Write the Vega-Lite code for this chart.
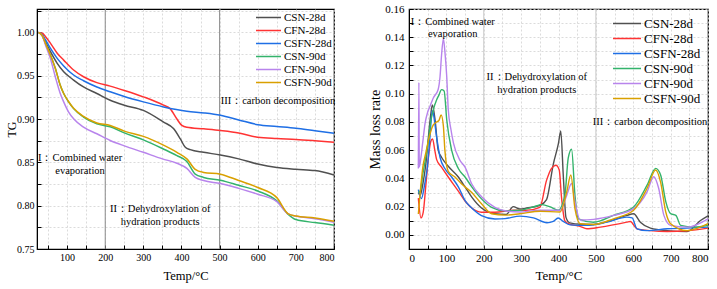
{
  "$schema": "https://vega.github.io/schema/vega-lite/v6.json",
  "background": "white",
  "padding": {"left": 4, "top": 2, "right": 0, "bottom": 0},
  "bounds": "flush",
  "spacing": 75,
  "config": {
    "font": "Liberation Serif",
    "view": {"stroke": "black", "strokeWidth": 1.2},
    "axis": {
      "domainColor": "black",
      "tickColor": "black",
      "tickSize": -4,
      "labelFont": "Liberation Serif",
      "labelColor": "black",
      "titleFont": "Liberation Serif",
      "titleColor": "black",
      "titleFontWeight": "normal",
      "gridColor": "#d2d2d2",
      "gridDash": [2, 2],
      "gridWidth": 0.8
    },
    "legend": {
      "labelFont": "Liberation Serif",
      "labelColor": "black",
      "symbolType": "stroke",
      "padding": 0,
      "rowPadding": 0,
      "labelOffset": 2
    }
  },
  "resolve": {"scale": {"color": "independent"}, "legend": {"color": "independent"}},
  "datasets": {
    "stages": [{"T": 200}, {"T": 500}],
    "tg": [
      {"s":"CSN-28d","T":25,"v":1.0},{"s":"CSN-28d","T":35,"v":0.997},{"s":"CSN-28d","T":43,"v":0.9895},{"s":"CSN-28d","T":56,"v":0.978},{"s":"CSN-28d","T":74,"v":0.9643},{"s":"CSN-28d","T":91,"v":0.9547},{"s":"CSN-28d","T":117,"v":0.945},{"s":"CSN-28d","T":143,"v":0.937},{"s":"CSN-28d","T":178,"v":0.9295},{"s":"CSN-28d","T":213,"v":0.9217},{"s":"CSN-28d","T":250,"v":0.916},{"s":"CSN-28d","T":300,"v":0.910},{"s":"CSN-28d","T":353,"v":0.8965},{"s":"CSN-28d","T":379,"v":0.889},{"s":"CSN-28d","T":397,"v":0.877},{"s":"CSN-28d","T":410,"v":0.8674},{"s":"CSN-28d","T":423,"v":0.8647},{"s":"CSN-28d","T":458,"v":0.8616},{"s":"CSN-28d","T":502,"v":0.8585},{"s":"CSN-28d","T":550,"v":0.854},{"s":"CSN-28d","T":600,"v":0.848},{"s":"CSN-28d","T":650,"v":0.844},{"s":"CSN-28d","T":700,"v":0.842},{"s":"CSN-28d","T":750,"v":0.8405},{"s":"CSN-28d","T":800,"v":0.8355},
      {"s":"CFN-28d","T":25,"v":1.0},{"s":"CFN-28d","T":35,"v":0.999},{"s":"CFN-28d","T":43,"v":0.9953},{"s":"CFN-28d","T":56,"v":0.9876},{"s":"CFN-28d","T":74,"v":0.976},{"s":"CFN-28d","T":91,"v":0.968},{"s":"CFN-28d","T":117,"v":0.9566},{"s":"CFN-28d","T":143,"v":0.9488},{"s":"CFN-28d","T":178,"v":0.942},{"s":"CFN-28d","T":213,"v":0.938},{"s":"CFN-28d","T":250,"v":0.933},{"s":"CFN-28d","T":300,"v":0.9256},{"s":"CFN-28d","T":353,"v":0.916},{"s":"CFN-28d","T":370,"v":0.912},{"s":"CFN-28d","T":388,"v":0.900},{"s":"CFN-28d","T":401,"v":0.8926},{"s":"CFN-28d","T":414,"v":0.8905},{"s":"CFN-28d","T":458,"v":0.8887},{"s":"CFN-28d","T":502,"v":0.8868},{"s":"CFN-28d","T":550,"v":0.884},{"s":"CFN-28d","T":600,"v":0.879},{"s":"CFN-28d","T":650,"v":0.8775},{"s":"CFN-28d","T":700,"v":0.8765},{"s":"CFN-28d","T":750,"v":0.875},{"s":"CFN-28d","T":800,"v":0.8733},
      {"s":"CSFN-28d","T":25,"v":1.0},{"s":"CSFN-28d","T":35,"v":0.997},{"s":"CSFN-28d","T":43,"v":0.9915},{"s":"CSFN-28d","T":56,"v":0.9818},{"s":"CSFN-28d","T":74,"v":0.970},{"s":"CSFN-28d","T":91,"v":0.9613},{"s":"CSFN-28d","T":117,"v":0.9508},{"s":"CSFN-28d","T":143,"v":0.9442},{"s":"CSFN-28d","T":178,"v":0.937},{"s":"CSFN-28d","T":213,"v":0.9314},{"s":"CSFN-28d","T":250,"v":0.926},{"s":"CSFN-28d","T":300,"v":0.9198},{"s":"CSFN-28d","T":353,"v":0.914},{"s":"CSFN-28d","T":414,"v":0.909},{"s":"CSFN-28d","T":460,"v":0.907},{"s":"CSFN-28d","T":502,"v":0.9043},{"s":"CSFN-28d","T":550,"v":0.899},{"s":"CSFN-28d","T":600,"v":0.8935},{"s":"CSFN-28d","T":650,"v":0.8915},{"s":"CSFN-28d","T":700,"v":0.8895},{"s":"CSFN-28d","T":750,"v":0.8865},{"s":"CSFN-28d","T":800,"v":0.8837},
      {"s":"CSN-90d","T":25,"v":1.0},{"s":"CSN-90d","T":35,"v":0.996},{"s":"CSN-90d","T":43,"v":0.9876},{"s":"CSN-90d","T":56,"v":0.974},{"s":"CSN-90d","T":69,"v":0.9585},{"s":"CSN-90d","T":82,"v":0.939},{"s":"CSN-90d","T":91,"v":0.9295},{"s":"CSN-90d","T":104,"v":0.9198},{"s":"CSN-90d","T":117,"v":0.912},{"s":"CSN-90d","T":143,"v":0.9023},{"s":"CSN-90d","T":178,"v":0.8945},{"s":"CSN-90d","T":213,"v":0.891},{"s":"CSN-90d","T":250,"v":0.884},{"s":"CSN-90d","T":300,"v":0.876},{"s":"CSN-90d","T":350,"v":0.866},{"s":"CSN-90d","T":388,"v":0.8578},{"s":"CSN-90d","T":414,"v":0.851},{"s":"CSN-90d","T":436,"v":0.8364},{"s":"CSN-90d","T":458,"v":0.8326},{"s":"CSN-90d","T":502,"v":0.8294},{"s":"CSN-90d","T":550,"v":0.8235},{"s":"CSN-90d","T":600,"v":0.817},{"s":"CSN-90d","T":650,"v":0.8055},{"s":"CSN-90d","T":680,"v":0.790},{"s":"CSN-90d","T":700,"v":0.784},{"s":"CSN-90d","T":750,"v":0.7805},{"s":"CSN-90d","T":800,"v":0.7775},
      {"s":"CFN-90d","T":25,"v":1.0},{"s":"CFN-90d","T":35,"v":0.996},{"s":"CFN-90d","T":43,"v":0.9857},{"s":"CFN-90d","T":56,"v":0.970},{"s":"CFN-90d","T":69,"v":0.9488},{"s":"CFN-90d","T":82,"v":0.9295},{"s":"CFN-90d","T":91,"v":0.9198},{"s":"CFN-90d","T":104,"v":0.908},{"s":"CFN-90d","T":117,"v":0.9003},{"s":"CFN-90d","T":143,"v":0.8907},{"s":"CFN-90d","T":178,"v":0.883},{"s":"CFN-90d","T":213,"v":0.8752},{"s":"CFN-90d","T":250,"v":0.869},{"s":"CFN-90d","T":300,"v":0.8616},{"s":"CFN-90d","T":350,"v":0.854},{"s":"CFN-90d","T":388,"v":0.849},{"s":"CFN-90d","T":414,"v":0.843},{"s":"CFN-90d","T":436,"v":0.8326},{"s":"CFN-90d","T":458,"v":0.829},{"s":"CFN-90d","T":502,"v":0.8256},{"s":"CFN-90d","T":550,"v":0.820},{"s":"CFN-90d","T":600,"v":0.8132},{"s":"CFN-90d","T":650,"v":0.8047},{"s":"CFN-90d","T":680,"v":0.7905},{"s":"CFN-90d","T":700,"v":0.788},{"s":"CFN-90d","T":750,"v":0.785},{"s":"CFN-90d","T":800,"v":0.781},
      {"s":"CSFN-90d","T":25,"v":1.0},{"s":"CSFN-90d","T":35,"v":0.996},{"s":"CSFN-90d","T":43,"v":0.9876},{"s":"CSFN-90d","T":56,"v":0.974},{"s":"CSFN-90d","T":69,"v":0.9585},{"s":"CSFN-90d","T":82,"v":0.939},{"s":"CSFN-90d","T":91,"v":0.9295},{"s":"CSFN-90d","T":104,"v":0.920},{"s":"CSFN-90d","T":117,"v":0.9125},{"s":"CSFN-90d","T":143,"v":0.903},{"s":"CSFN-90d","T":178,"v":0.8955},{"s":"CSFN-90d","T":213,"v":0.8926},{"s":"CSFN-90d","T":250,"v":0.886},{"s":"CSFN-90d","T":300,"v":0.880},{"s":"CSFN-90d","T":350,"v":0.8705},{"s":"CSFN-90d","T":388,"v":0.8616},{"s":"CSFN-90d","T":414,"v":0.854},{"s":"CSFN-90d","T":436,"v":0.842},{"s":"CSFN-90d","T":458,"v":0.8384},{"s":"CSFN-90d","T":502,"v":0.8364},{"s":"CSFN-90d","T":550,"v":0.829},{"s":"CSFN-90d","T":600,"v":0.821},{"s":"CSFN-90d","T":650,"v":0.8093},{"s":"CSFN-90d","T":680,"v":0.7905},{"s":"CSFN-90d","T":700,"v":0.788},{"s":"CSFN-90d","T":750,"v":0.7858},{"s":"CSFN-90d","T":800,"v":0.782}
    ],
    "dtg": [
      {"s":"CSN-28d","T":25,"v":0.030},{"s":"CSN-28d","T":30,"v":0.028},{"s":"CSN-28d","T":37,"v":0.036},{"s":"CSN-28d","T":45,"v":0.05},{"s":"CSN-28d","T":52,"v":0.0695},{"s":"CSN-28d","T":58,"v":0.085},{"s":"CSN-28d","T":62.5,"v":0.092},{"s":"CSN-28d","T":70,"v":0.081},{"s":"CSN-28d","T":78,"v":0.060},{"s":"CSN-28d","T":87,"v":0.055},{"s":"CSN-28d","T":105,"v":0.0486},{"s":"CSN-28d","T":132,"v":0.041},{"s":"CSN-28d","T":150,"v":0.034},{"s":"CSN-28d","T":168,"v":0.0267},{"s":"CSN-28d","T":194,"v":0.019},{"s":"CSN-28d","T":230,"v":0.015},{"s":"CSN-28d","T":260,"v":0.0145},{"s":"CSN-28d","T":279,"v":0.020},{"s":"CSN-28d","T":297,"v":0.0183},{"s":"CSN-28d","T":315,"v":0.019},{"s":"CSN-28d","T":351,"v":0.021},{"s":"CSN-28d","T":368,"v":0.025},{"s":"CSN-28d","T":386,"v":0.050},{"s":"CSN-28d","T":400,"v":0.065},{"s":"CSN-28d","T":406,"v":0.0736},{"s":"CSN-28d","T":413,"v":0.041},{"s":"CSN-28d","T":420,"v":0.0124},{"s":"CSN-28d","T":430,"v":0.0085},{"s":"CSN-28d","T":460,"v":0.0075},{"s":"CSN-28d","T":494,"v":0.0074},{"s":"CSN-28d","T":538,"v":0.010},{"s":"CSN-28d","T":583,"v":0.0138},{"s":"CSN-28d","T":601,"v":0.015},{"s":"CSN-28d","T":619,"v":0.009},{"s":"CSN-28d","T":646,"v":0.0048},{"s":"CSN-28d","T":691,"v":0.003},{"s":"CSN-28d","T":744,"v":0.0024},{"s":"CSN-28d","T":780,"v":0.0102},{"s":"CSN-28d","T":800,"v":0.0135},
      {"s":"CFN-28d","T":25,"v":0.026},{"s":"CFN-28d","T":32,"v":0.012},{"s":"CFN-28d","T":38,"v":0.016},{"s":"CFN-28d","T":45,"v":0.035},{"s":"CFN-28d","T":52,"v":0.055},{"s":"CFN-28d","T":58,"v":0.066},{"s":"CFN-28d","T":63,"v":0.068},{"s":"CFN-28d","T":69,"v":0.060},{"s":"CFN-28d","T":74,"v":0.0533},{"s":"CFN-28d","T":87,"v":0.048},{"s":"CFN-28d","T":105,"v":0.041},{"s":"CFN-28d","T":132,"v":0.031},{"s":"CFN-28d","T":150,"v":0.024},{"s":"CFN-28d","T":168,"v":0.019},{"s":"CFN-28d","T":194,"v":0.016},{"s":"CFN-28d","T":230,"v":0.016},{"s":"CFN-28d","T":279,"v":0.0174},{"s":"CFN-28d","T":315,"v":0.0174},{"s":"CFN-28d","T":350,"v":0.0195},{"s":"CFN-28d","T":368,"v":0.0386},{"s":"CFN-28d","T":381,"v":0.047},{"s":"CFN-28d","T":393,"v":0.0493},{"s":"CFN-28d","T":402,"v":0.046},{"s":"CFN-28d","T":408,"v":0.0267},{"s":"CFN-28d","T":417,"v":0.010},{"s":"CFN-28d","T":426,"v":0.0079},{"s":"CFN-28d","T":458,"v":0.006},{"s":"CFN-28d","T":476,"v":0.0043},{"s":"CFN-28d","T":512,"v":0.0055},{"s":"CFN-28d","T":583,"v":0.009},{"s":"CFN-28d","T":592,"v":0.0095},{"s":"CFN-28d","T":610,"v":0.0043},{"s":"CFN-28d","T":646,"v":0.003},{"s":"CFN-28d","T":691,"v":0.0024},{"s":"CFN-28d","T":744,"v":0.0029},{"s":"CFN-28d","T":800,"v":0.0048},
      {"s":"CSFN-28d","T":25,"v":0.032},{"s":"CSFN-28d","T":33,"v":0.0257},{"s":"CSFN-28d","T":42,"v":0.036},{"s":"CSFN-28d","T":50,"v":0.05},{"s":"CSFN-28d","T":56,"v":0.069},{"s":"CSFN-28d","T":62,"v":0.088},{"s":"CSFN-28d","T":65,"v":0.086},{"s":"CSFN-28d","T":74,"v":0.069},{"s":"CSFN-28d","T":83,"v":0.055},{"s":"CSFN-28d","T":96,"v":0.047},{"s":"CSFN-28d","T":114,"v":0.041},{"s":"CSFN-28d","T":132,"v":0.034},{"s":"CSFN-28d","T":150,"v":0.0243},{"s":"CSFN-28d","T":168,"v":0.019},{"s":"CSFN-28d","T":194,"v":0.0136},{"s":"CSFN-28d","T":230,"v":0.0112},{"s":"CSFN-28d","T":257,"v":0.0115},{"s":"CSFN-28d","T":297,"v":0.0133},{"s":"CSFN-28d","T":333,"v":0.012},{"s":"CSFN-28d","T":369,"v":0.0086},{"s":"CSFN-28d","T":386,"v":0.0095},{"s":"CSFN-28d","T":399,"v":0.012},{"s":"CSFN-28d","T":413,"v":0.0095},{"s":"CSFN-28d","T":431,"v":0.0071},{"s":"CSFN-28d","T":476,"v":0.0067},{"s":"CSFN-28d","T":530,"v":0.009},{"s":"CSFN-28d","T":583,"v":0.0126},{"s":"CSFN-28d","T":597,"v":0.012},{"s":"CSFN-28d","T":610,"v":0.0043},{"s":"CSFN-28d","T":637,"v":0.003},{"s":"CSFN-28d","T":691,"v":0.0043},{"s":"CSFN-28d","T":744,"v":0.0048},{"s":"CSFN-28d","T":800,"v":0.0055},
      {"s":"CSN-90d","T":25,"v":0.030},{"s":"CSN-90d","T":30,"v":0.031},{"s":"CSN-90d","T":37,"v":0.043},{"s":"CSN-90d","T":45,"v":0.055},{"s":"CSN-90d","T":52,"v":0.067},{"s":"CSN-90d","T":58,"v":0.08},{"s":"CSN-90d","T":65,"v":0.0886},{"s":"CSN-90d","T":74,"v":0.0957},{"s":"CSN-90d","T":80,"v":0.099},{"s":"CSN-90d","T":87,"v":0.1029},{"s":"CSN-90d","T":94,"v":0.102},{"s":"CSN-90d","T":101,"v":0.0814},{"s":"CSN-90d","T":114,"v":0.060},{"s":"CSN-90d","T":132,"v":0.047},{"s":"CSN-90d","T":150,"v":0.041},{"s":"CSN-90d","T":168,"v":0.034},{"s":"CSN-90d","T":194,"v":0.0255},{"s":"CSN-90d","T":221,"v":0.0195},{"s":"CSN-90d","T":257,"v":0.017},{"s":"CSN-90d","T":297,"v":0.0174},{"s":"CSN-90d","T":333,"v":0.0198},{"s":"CSN-90d","T":356,"v":0.0214},{"s":"CSN-90d","T":378,"v":0.0198},{"s":"CSN-90d","T":399,"v":0.0174},{"s":"CSN-90d","T":417,"v":0.028},{"s":"CSN-90d","T":426,"v":0.0543},{"s":"CSN-90d","T":435,"v":0.0607},{"s":"CSN-90d","T":444,"v":0.028},{"s":"CSN-90d","T":453,"v":0.0114},{"s":"CSN-90d","T":494,"v":0.009},{"s":"CSN-90d","T":547,"v":0.0138},{"s":"CSN-90d","T":601,"v":0.0198},{"s":"CSN-90d","T":637,"v":0.0352},{"s":"CSN-90d","T":660,"v":0.0471},{"s":"CSN-90d","T":673,"v":0.0426},{"s":"CSN-90d","T":687,"v":0.0236},{"s":"CSN-90d","T":700,"v":0.015},{"s":"CSN-90d","T":714,"v":0.0138},{"s":"CSN-90d","T":727,"v":0.0067},{"s":"CSN-90d","T":762,"v":0.0055},{"s":"CSN-90d","T":800,"v":0.0067},
      {"s":"CFN-90d","T":25,"v":0.047},{"s":"CFN-90d","T":26.5,"v":0.108},{"s":"CFN-90d","T":27.5,"v":0.048},{"s":"CFN-90d","T":32,"v":0.055},{"s":"CFN-90d","T":37,"v":0.066},{"s":"CFN-90d","T":43,"v":0.079},{"s":"CFN-90d","T":50,"v":0.087},{"s":"CFN-90d","T":56,"v":0.091},{"s":"CFN-90d","T":65,"v":0.097},{"s":"CFN-90d","T":78,"v":0.103},{"s":"CFN-90d","T":83,"v":0.112},{"s":"CFN-90d","T":87,"v":0.127},{"s":"CFN-90d","T":92,"v":0.139},{"s":"CFN-90d","T":96,"v":0.13},{"s":"CFN-90d","T":101,"v":0.112},{"s":"CFN-90d","T":105,"v":0.089},{"s":"CFN-90d","T":112,"v":0.075},{"s":"CFN-90d","T":119,"v":0.065},{"s":"CFN-90d","T":136,"v":0.053},{"s":"CFN-90d","T":150,"v":0.048},{"s":"CFN-90d","T":168,"v":0.036},{"s":"CFN-90d","T":194,"v":0.027},{"s":"CFN-90d","T":230,"v":0.0195},{"s":"CFN-90d","T":257,"v":0.0171},{"s":"CFN-90d","T":297,"v":0.0162},{"s":"CFN-90d","T":351,"v":0.0174},{"s":"CFN-90d","T":404,"v":0.0174},{"s":"CFN-90d","T":422,"v":0.028},{"s":"CFN-90d","T":435,"v":0.0364},{"s":"CFN-90d","T":444,"v":0.0236},{"s":"CFN-90d","T":458,"v":0.0105},{"s":"CFN-90d","T":494,"v":0.011},{"s":"CFN-90d","T":547,"v":0.0138},{"s":"CFN-90d","T":601,"v":0.0186},{"s":"CFN-90d","T":637,"v":0.0305},{"s":"CFN-90d","T":655,"v":0.0412},{"s":"CFN-90d","T":668,"v":0.033},{"s":"CFN-90d","T":682,"v":0.0138},{"s":"CFN-90d","T":700,"v":0.0067},{"s":"CFN-90d","T":744,"v":0.0055},{"s":"CFN-90d","T":800,"v":0.0114},
      {"s":"CSFN-90d","T":25,"v":0.0148},{"s":"CSFN-90d","T":30,"v":0.03},{"s":"CSFN-90d","T":37,"v":0.048},{"s":"CSFN-90d","T":45,"v":0.058},{"s":"CSFN-90d","T":52,"v":0.067},{"s":"CSFN-90d","T":65,"v":0.0779},{"s":"CSFN-90d","T":74,"v":0.080},{"s":"CSFN-90d","T":80,"v":0.081},{"s":"CSFN-90d","T":86,"v":0.085},{"s":"CSFN-90d","T":92,"v":0.077},{"s":"CSFN-90d","T":96,"v":0.06},{"s":"CSFN-90d","T":105,"v":0.045},{"s":"CSFN-90d","T":123,"v":0.041},{"s":"CSFN-90d","T":141,"v":0.036},{"s":"CSFN-90d","T":168,"v":0.030},{"s":"CSFN-90d","T":194,"v":0.022},{"s":"CSFN-90d","T":221,"v":0.015},{"s":"CSFN-90d","T":257,"v":0.014},{"s":"CSFN-90d","T":297,"v":0.015},{"s":"CSFN-90d","T":351,"v":0.0167},{"s":"CSFN-90d","T":404,"v":0.0162},{"s":"CSFN-90d","T":422,"v":0.0305},{"s":"CSFN-90d","T":433,"v":0.0424},{"s":"CSFN-90d","T":444,"v":0.0186},{"s":"CSFN-90d","T":458,"v":0.0079},{"s":"CSFN-90d","T":494,"v":0.0074},{"s":"CSFN-90d","T":547,"v":0.0114},{"s":"CSFN-90d","T":601,"v":0.0174},{"s":"CSFN-90d","T":637,"v":0.033},{"s":"CSFN-90d","T":660,"v":0.046},{"s":"CSFN-90d","T":673,"v":0.0376},{"s":"CSFN-90d","T":687,"v":0.0162},{"s":"CSFN-90d","T":700,"v":0.0079},{"s":"CSFN-90d","T":744,"v":0.003},{"s":"CSFN-90d","T":800,"v":0.0079}
    ],
    "tgNotes": [
      {"T": 653, "v": 0.9208, "t": "III：carbon decomposition"},
      {"T": 134, "v": 0.855, "t": "I：Combined water|evaporation"},
      {"T": 344, "v": 0.796, "t": "II：Dehydroxylation of|hydration products"}
    ],
    "dtgNotes": [
      {"T": 117, "v": 0.1508, "t": "I：Combined water|evaporation"},
      {"T": 342, "v": 0.1115, "t": "II：Dehydroxylation of|hydration products"},
      {"T": 645, "v": 0.080, "t": "III：carbon decomposition"}
    ]
  },
  "hconcat": [
    {
      "width": 297,
      "height": 240,
      "encoding": {
        "x": {
          "field": "T", "type": "quantitative",
          "scale": {"domain": [21, 800], "nice": false, "zero": false},
          "axis": {
            "title": "Temp/°C", "titleFontSize": 12.5, "titlePadding": 7,
            "values": [50,100,150,200,250,300,350,400,450,500,550,600,650,700,750,800],
            "labelExpr": "datum.value % 100 === 0 ? datum.label : ''",
            "labelFontSize": 10, "labelPadding": 7, "grid": true
          }
        },
        "y": {
          "field": "v", "type": "quantitative",
          "scale": {"domain": [0.75, 1.027], "nice": false, "zero": false},
          "axis": {
            "title": "TG", "titleFontSize": 12, "titlePadding": -2,
            "values": [0.75,0.775,0.8,0.825,0.85,0.875,0.9,0.925,0.95,0.975,1.0,1.025],
            "format": ".2f",
            "labelExpr": "abs(datum.value * 20 - round(datum.value * 20)) < 0.001 ? datum.label : ''",
            "labelFontSize": 10, "labelPadding": 7, "grid": true
          }
        }
      },
      "layer": [
        {
          "data": {"name": "stages"},
          "mark": {"type": "rule", "color": "#8a8a8a", "strokeWidth": 1},
          "encoding": {"y": null}
        },
        {
          "data": {"name": "tg"},
          "mark": {"type": "line", "strokeWidth": 1.5, "interpolate": "monotone"},
          "encoding": {
            "color": {
              "field": "s", "type": "nominal",
              "scale": {
                "domain": ["CSN-28d","CFN-28d","CSFN-28d","CSN-90d","CFN-90d","CSFN-90d"],
                "range": ["#505050","#ff3333","#1f6fe5","#33b36b","#b884ec","#d9a000"]
              },
              "legend": {
                "orient": "top-right", "title": null, "offset": 2,
                "symbolSize": 625, "symbolStrokeWidth": 1.5,
                "labelFontSize": 11, "clipHeight": 13
              }
            }
          }
        },
        {
          "data": {"name": "tgNotes"},
          "mark": {"type": "text", "fontSize": 10.5, "lineBreak": "|", "lineHeight": 12.5, "align": "center", "baseline": "middle", "color": "black"},
          "encoding": {"text": {"field": "t"}}
        }
      ]
    },
    {
      "width": 299,
      "height": 240,
      "encoding": {
        "x": {
          "field": "T", "type": "quantitative",
          "scale": {"domain": [0, 800], "nice": false, "zero": false},
          "axis": {
            "title": "Temp/°C", "titleFontSize": 13, "titlePadding": 6,
            "values": [0,50,100,150,200,250,300,350,400,450,500,550,600,650,700,750,800],
            "labelExpr": "datum.value % 100 === 0 ? datum.label : ''",
            "labelFontSize": 11, "labelPadding": 7, "grid": true
          }
        },
        "y": {
          "field": "v", "type": "quantitative",
          "scale": {"domain": [-0.01, 0.16], "nice": false, "zero": false},
          "axis": {
            "title": "Mass loss rate", "titleFontSize": 14, "titlePadding": 2,
            "values": [0,0.01,0.02,0.03,0.04,0.05,0.06,0.07,0.08,0.09,0.1,0.11,0.12,0.13,0.14,0.15,0.16],
            "format": ".2f",
            "labelExpr": "round(datum.value * 100) % 2 === 0 ? datum.label : ''",
            "labelFontSize": 11, "labelPadding": 9, "grid": true
          }
        }
      },
      "layer": [
        {
          "data": {"name": "stages"},
          "mark": {"type": "rule", "color": "#c8c8c8", "strokeWidth": 1},
          "encoding": {"y": null}
        },
        {
          "data": {"name": "dtg"},
          "mark": {"type": "line", "strokeWidth": 1.4, "interpolate": "monotone"},
          "encoding": {
            "color": {
              "field": "s", "type": "nominal",
              "scale": {
                "domain": ["CSN-28d","CFN-28d","CSFN-28d","CSN-90d","CFN-90d","CSFN-90d"],
                "range": ["#505050","#ff3333","#1f6fe5","#33b36b","#b884ec","#d9a000"]
              },
              "legend": {
                "orient": "top-right", "title": null, "offset": 7,
                "symbolSize": 784, "symbolStrokeWidth": 1.5,
                "labelFontSize": 13, "clipHeight": 15
              }
            }
          }
        },
        {
          "data": {"name": "dtgNotes"},
          "mark": {"type": "text", "fontSize": 10.5, "lineBreak": "|", "lineHeight": 12.5, "align": "center", "baseline": "middle", "color": "black"},
          "encoding": {"text": {"field": "t"}}
        }
      ]
    }
  ]
}
